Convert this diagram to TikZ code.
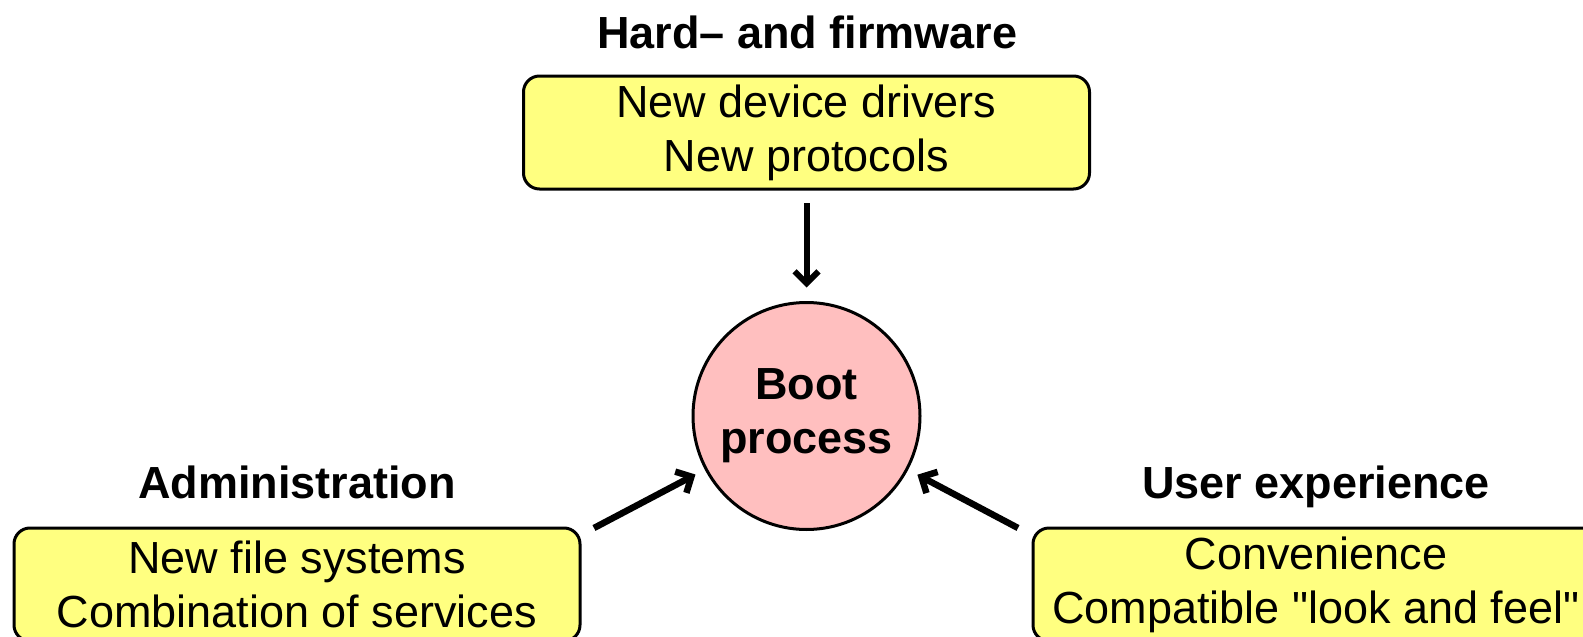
\documentclass[tikz,border=0pt]{standalone}
\usepackage{fontspec}
\setmainfont{Liberation Sans}[Ligatures=TeXOff]
\usetikzlibrary{arrows.meta}
\definecolor{boxyellow}{RGB}{255,255,128}
\definecolor{bootpink}{RGB}{255,191,191}
\begin{document}
\begin{tikzpicture}[x=1pt,y=-1pt,
  every node/.style={inner sep=0pt, outer sep=0pt},
  txt/.style={font=\fontsize{45}{54}\selectfont, align=center},
  heading/.style={font=\fontsize{45}{54}\selectfont\bfseries, anchor=base},
  infobox/.style={txt, draw=black, line width=3pt, fill=boxyellow, rounded corners=16pt,
     minimum width=566pt, minimum height=113pt},
  hub/.style={circle, draw=black, line width=3pt, fill=bootpink, minimum size=227pt,
     font=\fontsize{45}{54}\selectfont\bfseries, align=center},
  feed/.style={line width=6.5pt, -{Straight Barb[length=12pt,width=24pt]}}
]
\useasboundingbox (0,0) rectangle (1583,637);

% headings
\node[heading] (hhw) at (807.5,48) {Hard– and firmware};
\node[heading] (hadm) at (297,498) {Administration};
\node[heading] (hux) at (1316,498) {User experience};

% boxes
\node[infobox] (hw) at (806.5,132.5) {New device drivers\\New protocols};
\node[infobox] (adm) at (297,584.5) {New file systems\\Combination of services};
\node[infobox] (ux) at (1316,584.5) {Convenience\\Compatible "look and feel"};

% hub
\node[hub] (boot) at (806.5,416) {Boot\\process};

% connectors
\coordinate (admtail) at (594,528);
\coordinate (uxtail) at (1018,528);
\draw[feed, line width=6pt, shorten <=14pt, shorten >=15pt] (hw.south) -- (boot.north);
\draw[feed, shorten >=12pt] (admtail) -- (boot);
\draw[feed, shorten >=12pt] (uxtail) -- (boot);
\end{tikzpicture}
\end{document}
